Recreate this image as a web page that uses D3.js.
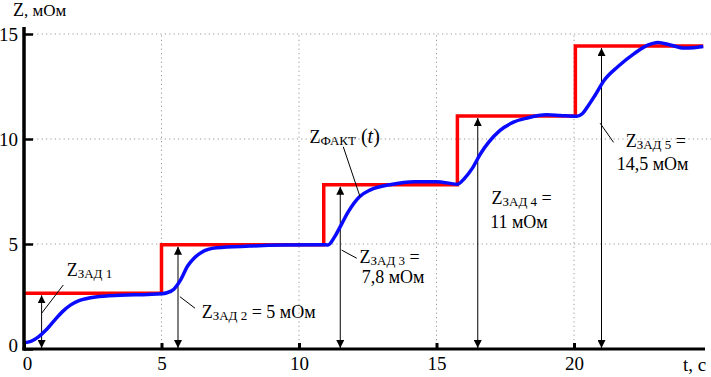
<!DOCTYPE html>
<html>
<head>
<meta charset="utf-8">
<script src="https://cdn.jsdelivr.net/npm/d3@7"></script>
<style>
  body { margin: 0; background: #fff; }
  svg, svg text { font-family: "Liberation Serif", "Times New Roman", Times, "DejaVu Serif", serif !important; }
</style>
</head>
<body>
<div id="chart"></div>
<script>
// Tick labels
const xTicks = [0, 5, 10, 15, 20];
const yTicks = [0, 5, 10, 15];

// Setpoint (red step): switching times and levels
const stepTimes = [0, 5.0, 10.9, 15.76, 20.05, 24.7];
const stepLevels = [2.65, 4.97, 7.82, 11.1, 14.43];

const factT = [0, 0.25, 0.5, 0.8, 1.1, 1.4, 1.7, 2.0, 2.6, 3.5, 4.5, 5.0, 5.2, 5.45, 5.7, 5.95, 6.2, 6.45, 7.0, 8.2, 9.4, 10.9,
  11.05, 11.3, 11.55, 11.8, 12.2, 12.6, 13.3, 14.2, 15.0, 15.76, 16.0, 16.3, 16.6, 16.9, 17.3, 17.8, 18.3, 19.0, 19.5, 20.1,
  20.3, 20.5, 20.75, 21.1, 21.6, 22.2, 22.7, 23.05, 23.5, 24.0, 24.35, 24.7];
const factZ = [0.3, 0.36, 0.55, 0.9, 1.35, 1.78, 2.1, 2.3, 2.48, 2.56, 2.6, 2.63, 2.68, 2.85, 3.3, 3.95, 4.35, 4.6, 4.82, 4.9, 4.95, 4.97,
  4.95, 5.35, 5.95, 6.55, 7.25, 7.58, 7.82, 7.97, 7.97, 7.85, 8.1, 8.6, 9.3, 9.85, 10.4, 10.8, 11.0, 11.15, 11.12, 11.08,
  11.2, 11.55, 12.05, 12.8, 13.45, 14.08, 14.48, 14.6, 14.48, 14.33, 14.35, 14.4];

// Dimension arrows: time of each arrow
const arrowTimes = [0.64, 5.6, 11.5, 16.5, 21.0];

const width = 711, height = 377;
const x = d3.scaleLinear().domain([0, 25]).range([24, 711.5]);
const y = d3.scaleLinear().domain([0, 15]).range([349, 34]);

const svg = d3.select("#chart").append("svg")
  .attr("width", width).attr("height", height);

const defs = svg.append("defs");
defs.append("marker")
  .attr("id", "arrEnd")
  .attr("viewBox", "0 0 10 10")
  .attr("refX", 10).attr("refY", 5)
  .attr("markerWidth", 8).attr("markerHeight", 8)
  .attr("markerUnits", "userSpaceOnUse")
  .attr("orient", "auto-start-reverse")
  .append("path").attr("d", "M0,0L10,5L0,10Z").attr("fill", "#000");

// grid
const grid = svg.append("g").attr("stroke", "#999").attr("stroke-width", 1)
  .attr("stroke-dasharray", "1.2,3.2");
grid.selectAll(".gv").data(xTicks.filter(d => d > 0)).enter().append("line")
  .attr("x1", d => x(d)).attr("x2", d => x(d))
  .attr("y1", y(0)).attr("y2", y(15));
grid.selectAll(".gh").data(yTicks.filter(d => d > 0)).enter().append("line")
  .attr("x1", x(0)).attr("x2", width)
  .attr("y1", d => y(d)).attr("y2", d => y(d));

// dimension arrows
const steps = stepLevels.map((v, i) => ({ t0: stepTimes[i], t1: stepTimes[i + 1], v }));
svg.selectAll(".dim").data(arrowTimes).enter().append("line")
  .attr("x1", d => x(d)).attr("x2", d => x(d))
  .attr("y1", y(0) - 1)
  .attr("y2", (d, i) => y(steps[i].v) + 2)
  .attr("stroke", "#000").attr("stroke-width", 1)
  .attr("marker-start", "url(#arrEnd)")
  .attr("marker-end", "url(#arrEnd)");

// setpoint step line
const stepPts = [];
steps.forEach(s => { stepPts.push([s.t0, s.v]); stepPts.push([s.t1, s.v]); });
svg.append("path")
  .datum(stepPts)
  .attr("fill", "none").attr("stroke", "#ff0000").attr("stroke-width", 3.5)
  .attr("d", d3.line().x(d => x(d[0])).y(d => y(d[1])));

// actual response
const fact = factT.map((t, i) => [t, factZ[i]]);
svg.append("path")
  .datum(fact)
  .attr("fill", "none").attr("stroke", "#0a0aff").attr("stroke-width", 3.5)
  .attr("d", d3.line().x(d => x(d[0])).y(d => y(d[1])).curve(d3.curveMonotoneX));

// axes
const xAxis = d3.axisBottom(x).tickValues(xTicks).tickSize(-6).tickPadding(8);
const gx = svg.append("g").attr("transform", `translate(0,${y(0)})`).call(xAxis)
  .attr("font-family", null);
gx.select(".domain").remove();
gx.selectAll(".tick line").attr("stroke-width", 3);
gx.selectAll(".tick text").attr("font-size", 19)
  .attr("dy", "0.71em").attr("dx", (d) => d === 0 ? 3 : 0);
svg.append("line").attr("x1", x(0) - 1.5).attr("x2", 705)
  .attr("y1", y(0)).attr("y2", y(0)).attr("stroke", "#000").attr("stroke-width", 3);

const yAxis = d3.axisLeft(y).tickValues(yTicks).tickSize(-9).tickPadding(6);
const gy = svg.append("g").attr("transform", `translate(${x(0)},0)`).call(yAxis)
  .attr("font-family", null);
gy.select(".domain").remove();
gy.selectAll(".tick line").attr("stroke-width", 2.5);
gy.selectAll(".tick text").attr("font-size", 19)
  .attr("dy", d => d === 0 ? "0.15em" : "0.32em");
svg.append("line").attr("x1", x(0)).attr("x2", x(0))
  .attr("y1", 27).attr("y2", y(0) + 1.5).attr("stroke", "#000").attr("stroke-width", 3.5);

// axis titles
const tz = svg.append("text").attr("x", 13).attr("y", 16).attr("font-size", 18);
tz.append("tspan").text("Z");
tz.append("tspan").text(", мОм").attr("font-size", 17);
svg.append("text").attr("x", 683).attr("y", 371).attr("font-size", 19).text("t, с");

// annotations
function zLabel(tx, tz, sub, tail) {
  const t = svg.append("text").attr("x", x(tx)).attr("y", y(tz)).attr("font-size", 18);
  t.append("tspan").text("Z");
  t.append("tspan").text(sub).attr("font-size", 13).attr("dy", 2);
  if (tail) t.append("tspan").attr("dy", -2).text(tail);
  return t;
}
function leader(t1, z1, t2, z2) {
  svg.append("line").attr("x1", x(t1)).attr("y1", y(z1)).attr("x2", x(t2)).attr("y2", y(z2))
    .attr("stroke", "#000").attr("stroke-width", 1);
}
function plain(tx, tz, s) {
  svg.append("text").attr("x", x(tx)).attr("y", y(tz)).attr("font-size", 18).text(s);
}

zLabel(1.55, 3.48, "ЗАД 1");
leader(1.43, 3.05, 0.64, 1.7);

zLabel(6.46, 1.48, "ЗАД 2", " = 5 мОм");
leader(5.67, 2.49, 6.22, 1.94);

const ft = svg.append("text").attr("x", x(10.38)).attr("y", y(9.8)).attr("font-size", 18);
ft.append("tspan").text("Z");
ft.append("tspan").text("ФАКТ").attr("font-size", 13).attr("dy", 2);
ft.append("tspan").text(" (").attr("dy", -2).attr("font-size", 20);
ft.append("tspan").text("t").attr("font-style", "italic").attr("font-size", 20);
ft.append("tspan").text(")").attr("font-size", 20);
leader(11.61, 9.63, 12.22, 7.25);

zLabel(12.2, 4.1, "ЗАД 3", " =");
plain(12.28, 3.13, "7,8 мОм");
leader(11.55, 4.71, 12.1, 4.32);

zLabel(17.0, 6.9, "ЗАД 4", " =");
plain(16.95, 5.75, "11 мОм");

zLabel(21.88, 9.63, "ЗАД 5", " =");
plain(21.55, 8.52, "14,5 мОм");
leader(20.95, 10.75, 21.44, 9.84);
</script>
</body>
</html>
